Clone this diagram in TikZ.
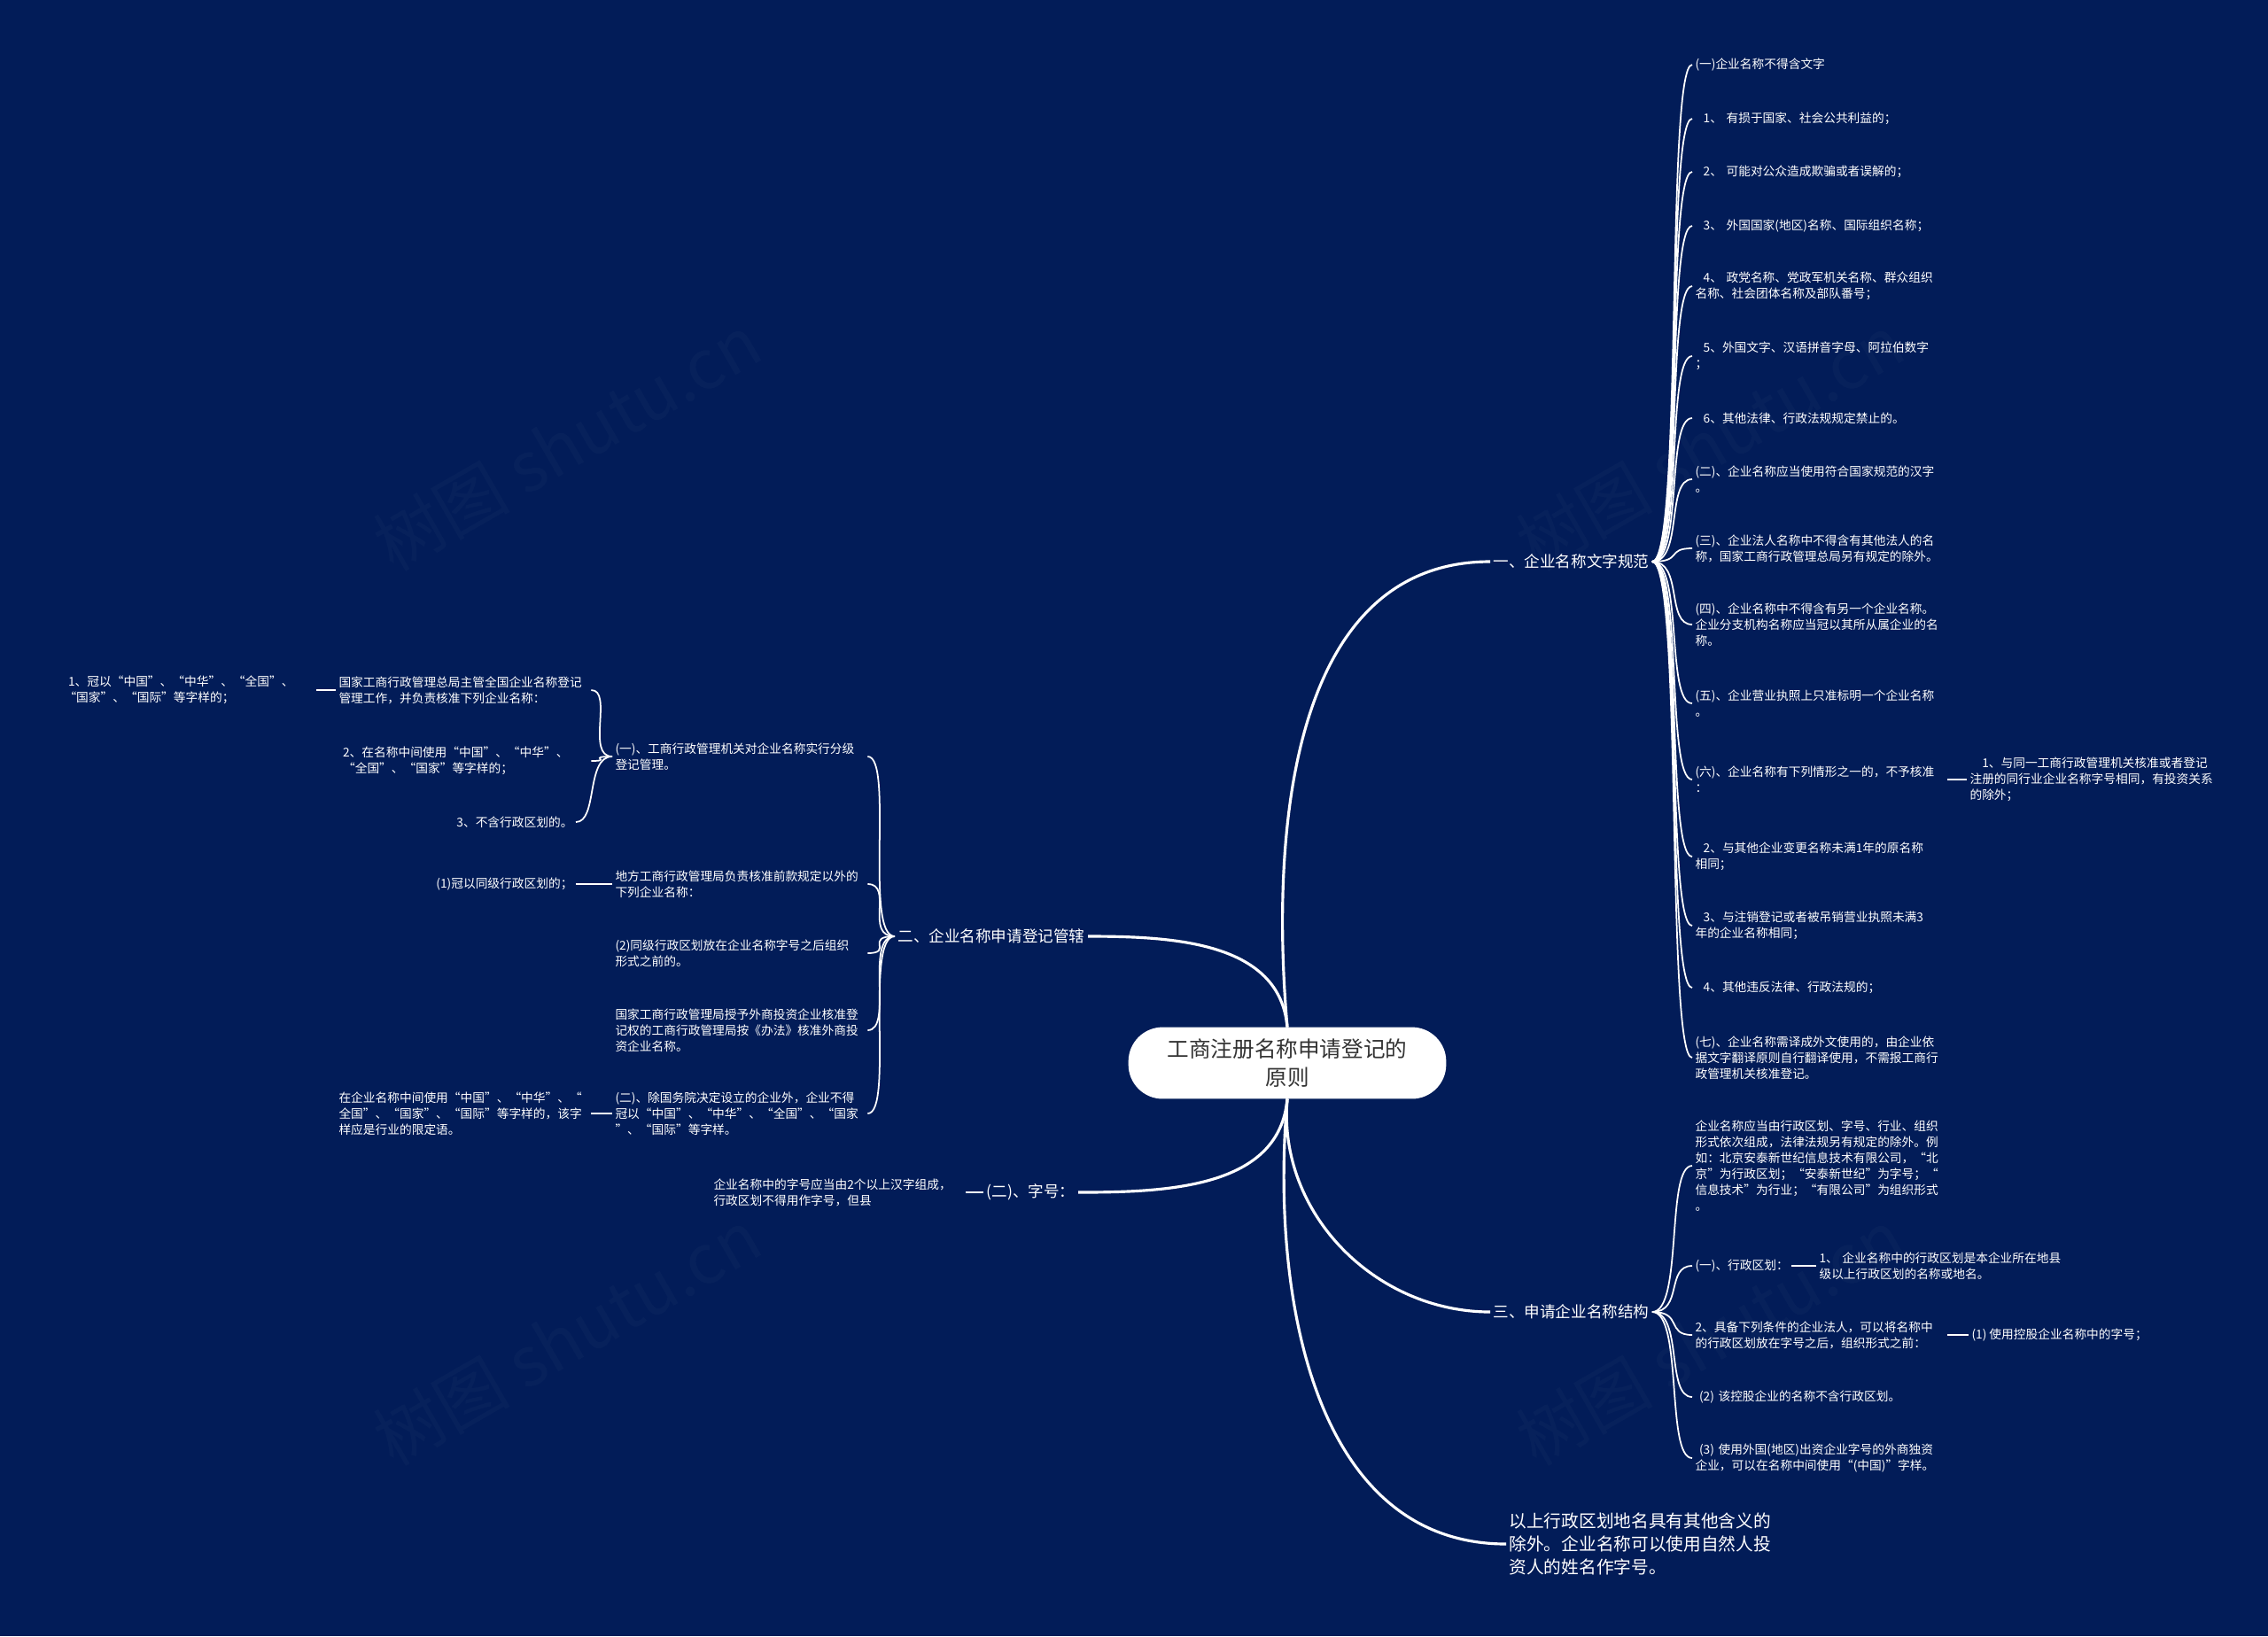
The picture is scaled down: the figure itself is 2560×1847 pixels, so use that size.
\documentclass[tikz,border=0pt]{standalone}
\usepackage{fontspec}
\setmainfont{Noto Sans CJK SC}
\usetikzlibrary{positioning}
\definecolor{bgblue}{HTML}{021C58}
\definecolor{titlegray}{HTML}{333333}
\begin{document}
\begin{tikzpicture}[x=0.01cm, y=-0.01cm,
            every node/.style = {inner sep = 1pt,
                                outer sep = 0pt,
                                text = white},
            root/.style       = {fill = white,
                                text = titlegray,
                                rounded corners = 11pt,
                                minimum width  = 102pt,
                                minimum height = 23pt,
                                align = center,
                                font = \fontsize{7}{9.2}\selectfont},
            branch/.style     = {font = \fontsize{5}{6.5}\selectfont},
            leaf/.style       = {font = \fontsize{3.9}{5.1}\selectfont,
                                align = left},
            wide/.style       = {leaf, text width = 80pt},
            link/.style       = {draw = white, line width = 0.9pt},
            twig/.style       = {draw = white, line width = 0.5pt},
            wmark/.style      = {text = white, opacity = 0.025,
                                rotate = 30,
                                font = \fontsize{22}{22}\selectfont}
            ]
            \fill [bgblue] (0,0) rectangle (2560,1847);
            \useasboundingbox (0,0) rectangle (2560,1847);

            % watermarks
            \node [wmark] (w1) at (640,500)  {树图 shutu.cn};
            \node [wmark] (w2) at (1930,500) {树图 shutu.cn};
            \node [wmark] (w3) at (640,1510) {树图 shutu.cn};
            \node [wmark] (w4) at (1930,1510){树图 shutu.cn};

            \node [root] (root) at (1453,1200) {工商注册名称申请登记的\\原则};

            % main branches
            \node [branch, anchor = west] (b1) at (1682,634)  {一、企业名称文字规范};
            \node [branch, anchor = east] (b2) at (1228,1057) {二、企业名称申请登记管辖};
            \node [branch, anchor = west] (b3) at (1682,1481) {三、申请企业名称结构};
            \node [branch, anchor = east] (b4) at (1217,1346) {(二)、字号：};
            \node [branch, anchor = west, align = left,
                   font = \fontsize{5.6}{7.3}\selectfont] (b5) at (1700,1743)
                  {以上行政区划地名具有其他含义的\\除外。企业名称可以使用自然人投\\资人的姓名作字号。};

            \draw [link] (root.north) to[out=95,  in=180] (b1.west);
            \draw [link] (root.north) to[out=95,  in=0]   (b2.east);
            \draw [link] (root.south) to[out=-95, in=180] (b3.west);
            \draw [link] (root.south) to[out=-95, in=0]   (b4.east);
            \draw [link] (root.south) to[out=-95, in=180] (b5.west);

            % branch 1
            \node [wide, anchor = west] (c1)  at (1910,73)   {(一)企业名称不得含文字};
            \node [wide, anchor = west] (c2)  at (1910,134)  {\ \ 1、 有损于国家、社会公共利益的；};
            \node [wide, anchor = west] (c3)  at (1910,194)  {\ \ 2、 可能对公众造成欺骗或者误解的；};
            \node [wide, anchor = west] (c4)  at (1910,255)  {\ \ 3、 外国国家(地区)名称、国际组织名称；};
            \node [wide, anchor = west] (c5)  at (1910,323)  {\ \ 4、 政党名称、党政军机关名称、群众组织\\名称、社会团体名称及部队番号；};
            \node [wide, anchor = west] (c6)  at (1910,402)  {\ \ 5、外国文字、汉语拼音字母、阿拉伯数字\\；};
            \node [wide, anchor = west] (c7)  at (1910,472)  {\ \ 6、其他法律、行政法规规定禁止的。};
            \node [wide, anchor = west] (c8)  at (1910,541)  {(二)、企业名称应当使用符合国家规范的汉字\\。};
            \node [wide, anchor = west] (c9)  at (1910,619)  {(三)、企业法人名称中不得含有其他法人的名\\称，国家工商行政管理总局另有规定的除外。};
            \node [wide, anchor = west] (c10) at (1910,705)  {(四)、企业名称中不得含有另一个企业名称。\\企业分支机构名称应当冠以其所从属企业的名\\称。};
            \node [wide, anchor = west] (c11) at (1910,794)  {(五)、企业营业执照上只准标明一个企业名称\\。};
            \node [wide, anchor = west] (c12) at (1910,880)  {(六)、企业名称有下列情形之一的，不予核准\\：};
            \node [wide, anchor = west] (c13) at (1910,967)  {\ \ 2、与其他企业变更名称未满1年的原名称\\相同；};
            \node [wide, anchor = west] (c14) at (1910,1045) {\ \ 3、与注销登记或者被吊销营业执照未满3\\年的企业名称相同；};
            \node [wide, anchor = west] (c15) at (1910,1115) {\ \ 4、其他违反法律、行政法规的；};
            \node [wide, anchor = west] (c16) at (1910,1194) {(七)、企业名称需译成外文使用的，由企业依\\据文字翻译原则自行翻译使用，不需报工商行\\政管理机关核准登记。};
            \node [wide, anchor = west] (c12a) at (2220,880) {\ \ \ 1、与同一工商行政管理机关核准或者登记\\注册的同行业企业名称字号相同，有投资关系\\的除外；};

            \foreach \c in {c1,c2,c3,c4,c5,c6,c7,c8,c9,c10,c11,c12,c13,c14,c15,c16}
                \draw [twig] (b1.east) .. controls +(35,0) and +(-30,0) .. (\c.west);
            \draw [twig] (c12.east) -- (c12a.west);

            % branch 3
            \node [wide, anchor = west] (d1) at (1910,1316) {企业名称应当由行政区划、字号、行业、组织\\形式依次组成，法律法规另有规定的除外。例\\如：北京安泰新世纪信息技术有限公司，“北\\京”为行政区划；“安泰新世纪”为字号；“\\信息技术”为行业；“有限公司”为组织形式\\。};
            \node [leaf, anchor = west] (d2) at (1910,1429) {(一)、行政区划：};
            \node [wide, anchor = west] (d3) at (1910,1507) {2、具备下列条件的企业法人，可以将名称中\\的行政区划放在字号之后，组织形式之前：};
            \node [wide, anchor = west] (d4) at (1910,1577) {\ (2) 该控股企业的名称不含行政区划。};
            \node [wide, anchor = west] (d5) at (1910,1646) {\ (3) 使用外国(地区)出资企业字号的外商独资\\企业，可以在名称中间使用“(中国)”字样。};
            \node [wide, anchor = west] (d2a) at (2050,1429) {1、 企业名称中的行政区划是本企业所在地县\\级以上行政区划的名称或地名。};
            \node [leaf, anchor = west] (d3a) at (2222,1507) {(1) 使用控股企业名称中的字号；};

            \foreach \d in {d1,d2,d3,d4,d5}
                \draw [twig] (b3.east) .. controls +(35,0) and +(-30,0) .. (\d.west);
            \draw [twig] (d2.east) -- (d2a.west);
            \draw [twig] (d3.east) -- (d3a.west);

            % branch 2
            \node [wide, anchor = west] (e1) at (691,854)  {(一)、工商行政管理机关对企业名称实行分级\\登记管理。};
            \node [wide, anchor = west] (e2) at (691,998)  {地方工商行政管理局负责核准前款规定以外的\\下列企业名称：};
            \node [wide, anchor = west] (e3) at (691,1076) {(2)同级行政区划放在企业名称字号之后组织\\形式之前的。};
            \node [wide, anchor = west] (e4) at (691,1163) {国家工商行政管理局授予外商投资企业核准登\\记权的工商行政管理局按《办法》核准外商投\\资企业名称。};
            \node [wide, anchor = west] (e5) at (691,1257) {(二)、除国务院决定设立的企业外，企业不得\\冠以“中国”、“中华”、“全国”、“国家\\”、“国际”等字样。};

            \foreach \e in {e1,e2,e3,e4,e5}
                \draw [twig] (b2.west) .. controls +(-35,0) and +(30,0) .. (\e.east);

            \node [wide, anchor = west] (f1) at (379,779)  {国家工商行政管理总局主管全国企业名称登记\\管理工作，并负责核准下列企业名称：};
            \node [wide, anchor = west] (f2) at (379,859)  {\ 2、在名称中间使用“中国”、“中华”、\\\ “全国”、“国家”等字样的；};
            \node [leaf, anchor = east] (f3) at (650,928)  {3、不含行政区划的。};
            \node [leaf, anchor = east] (f4) at (650,998)  {(1)冠以同级行政区划的；};
            \node [wide, anchor = west] (f5) at (379,1257) {在企业名称中间使用“中国”、“中华”、“\\全国”、“国家”、“国际”等字样的，该字\\样应是行业的限定语。};
            \node [wide, anchor = west] (g1) at (69,779)   {\ 1、冠以“中国”、“中华”、“全国”、\\“国家”、“国际”等字样的；};

            \foreach \f in {f1,f2,f3}
                \draw [twig] (e1.west) .. controls +(-30,0) and +(25,0) .. (\f.east);
            \draw [twig] (e2.west) -- (f4.east);
            \draw [twig] (e5.west) -- (f5.east);
            \draw [twig] (f1.west) -- (g1.east);

            % branch (二) 字号
            \node [wide, anchor = west] (h1) at (802,1346) {企业名称中的字号应当由2个以上汉字组成，\\行政区划不得用作字号，但县};
            \draw [twig] (h1.east) -- (b4.west);
\end{tikzpicture}
\end{document}
